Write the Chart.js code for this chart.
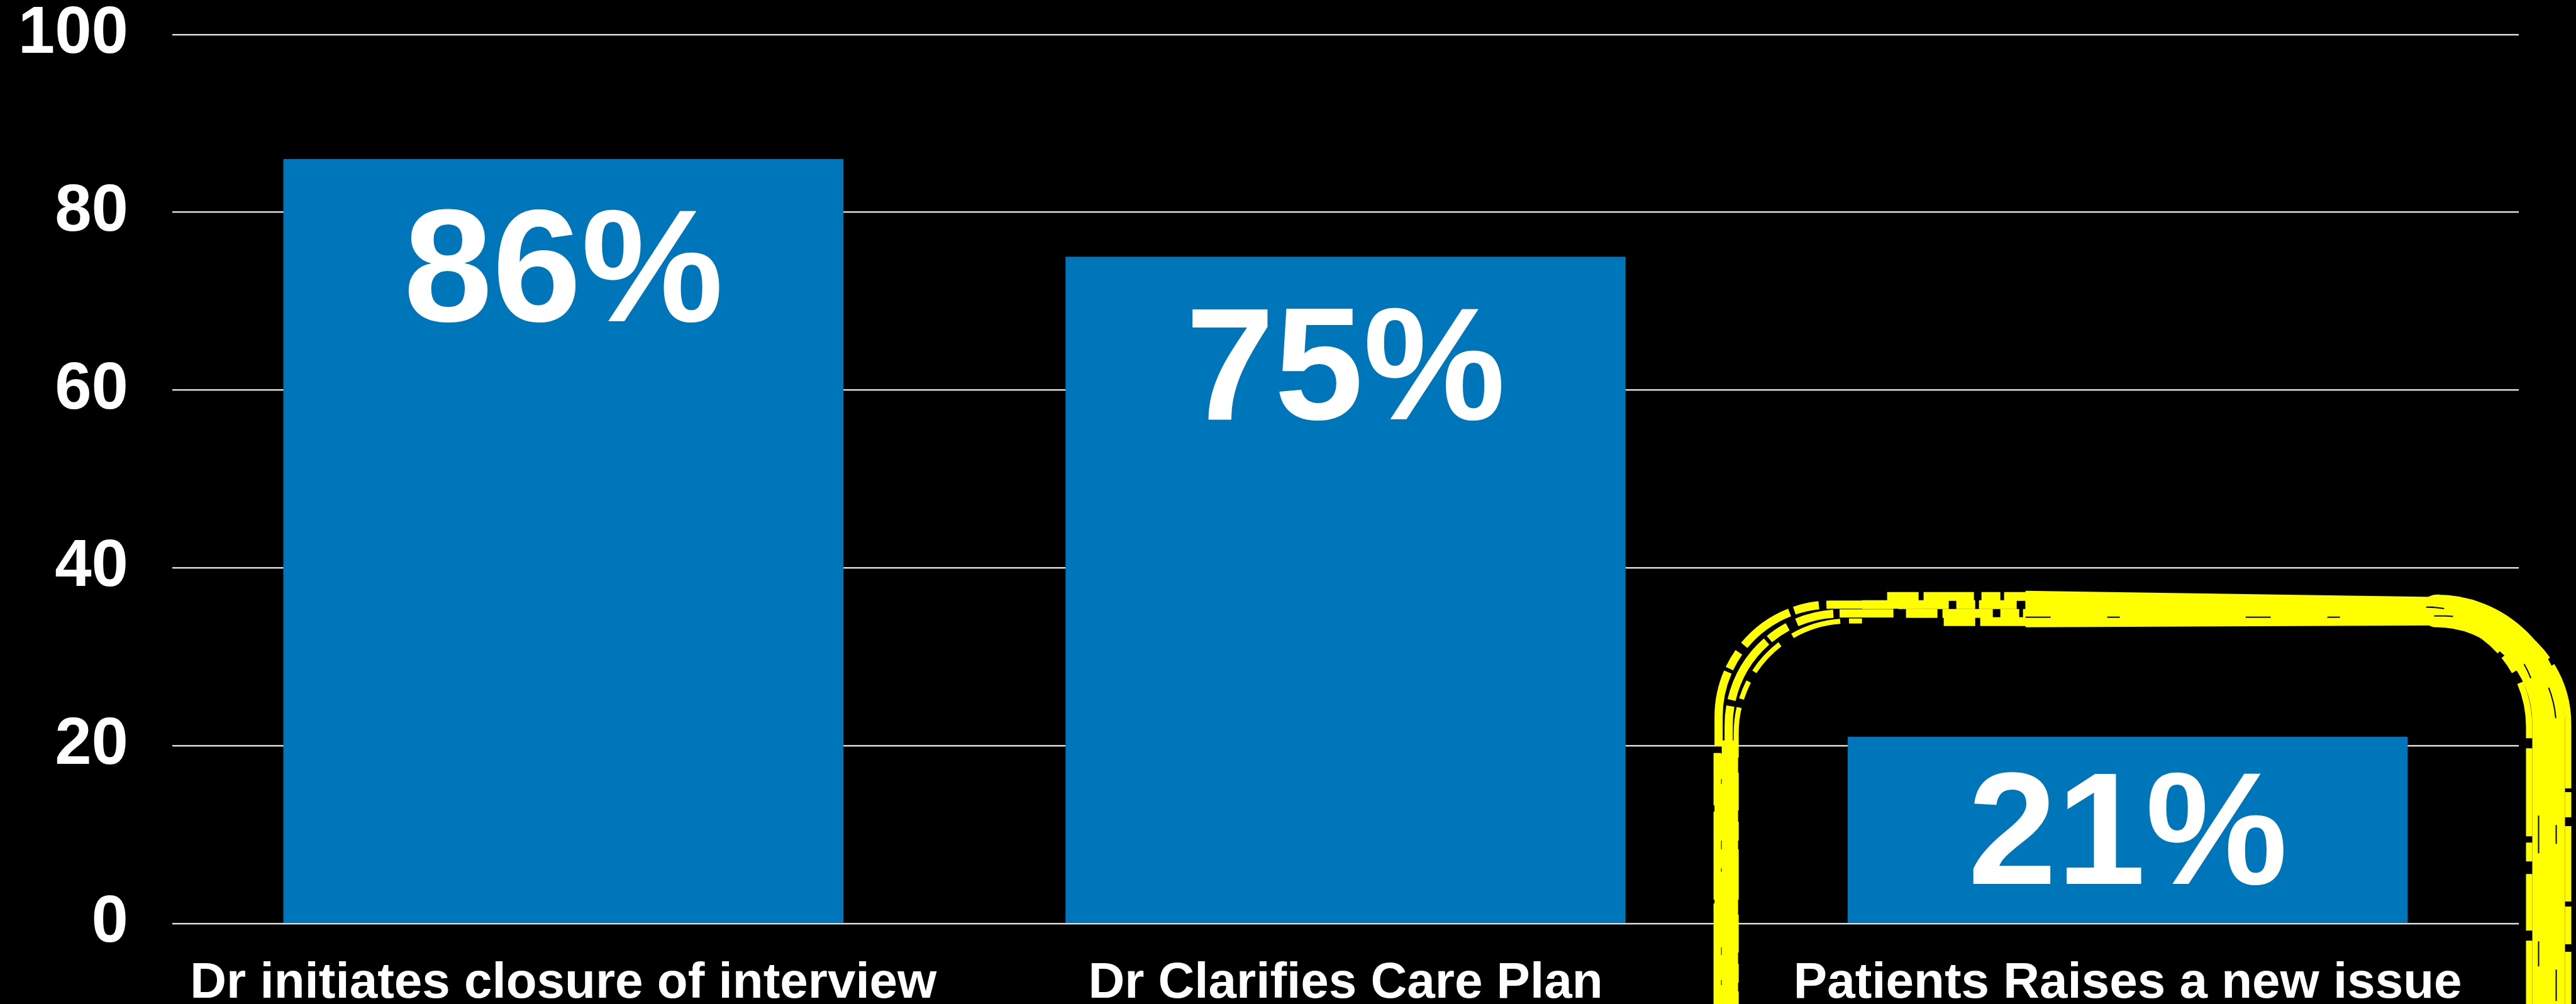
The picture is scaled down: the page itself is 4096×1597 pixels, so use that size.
<!DOCTYPE html>
<html>
<head>
<meta charset="utf-8">
<title>Closure of interview</title>
<script src="https://cdn.jsdelivr.net/npm/chart.js@4.4.1/dist/chart.umd.min.js"></script>
<style>
  html, body { margin: 0; padding: 0; background: #000; }
  #wrap { width: 4096px; height: 1597px; position: relative; }
</style>
</head>
<body>
<div id="wrap"><canvas id="closureChart"></canvas></div>
<script>
// Datos del gráfico
const categories = ['Dr initiates closure of interview', 'Dr Clarifies Care Plan', 'Patients Raises a new issue'];
const percentValues = [86, 75, 21];
const yTicks = [0, 20, 40, 60, 80, 100];
const highlightIndex = 2;

const FONT = "'Liberation Sans', Arial, Helvetica, sans-serif";

// Etiquetas grandes "86%" dentro de cada barra
const barLabels = {
    id: 'barLabels',
    afterDatasetsDraw(chart) {
        const ctx = chart.ctx;
        const meta = chart.getDatasetMeta(0);
        ctx.save();
        ctx.fillStyle = '#ffffff';
        ctx.font = 'bold 254px ' + FONT;
        ctx.textAlign = 'center';
        ctx.textBaseline = 'alphabetic';
        meta.data.forEach((bar, i) => {
            const y = Math.min(bar.y + 258, (bar.y + bar.base) / 2 + 86);
            ctx.fillText(percentValues[i] + '%', bar.x, y);
        });
        ctx.restore();
    }
};

// Marco amarillo tipo pincel alrededor de la última categoría
const highlight = {
    id: 'highlight',
    afterDraw(chart) {
        const ctx = chart.ctx;
        const xs = chart.scales.x;
        const ys = chart.scales.y;
        const x0 = xs.getPixelForValue(highlightIndex - 0.515);
        const x1 = xs.getPixelForValue(highlightIndex + 0.535);
        const yTop = ys.getPixelForValue(35.3);
        const yBot = chart.height + 60;
        const r = 178;

        // esquina superior izquierda + lado izquierdo
        const leftPath = (dx, dy, xEnd) => {
            ctx.beginPath();
            ctx.moveTo(x0 + dx, yBot);
            ctx.lineTo(x0 + dx, yTop + dy + r);
            ctx.arcTo(x0 + dx, yTop + dy, x0 + dx + r, yTop + dy, r);
            ctx.lineTo(xEnd, yTop + dy);
            ctx.stroke();
        };
        // esquina superior derecha + lado derecho
        const rightPath = (dx, dy, xStart) => {
            ctx.beginPath();
            ctx.moveTo(xStart, yTop + dy);
            ctx.arcTo(x1 + dx, yTop + dy, x1 + dx, yTop + dy + r, r);
            ctx.lineTo(x1 + dx, yBot);
            ctx.stroke();
        };

        ctx.save();
        ctx.strokeStyle = '#ffff00';
        ctx.fillStyle = '#ffff00';
        ctx.lineCap = 'butt';
        ctx.lineJoin = 'round';

        // lado izquierdo: dos vetas
        ctx.lineWidth = 26;
        ctx.beginPath();
        ctx.moveTo(x0 + 8, yBot);
        ctx.lineTo(x0 + 8, yTop + r + 30);
        ctx.stroke();
        ctx.lineWidth = 12;
        ctx.setLineDash([220, 6, 140, 10, 300, 5]);
        ctx.beginPath();
        ctx.moveTo(x0 - 12, yBot);
        ctx.lineTo(x0 - 12, yTop + r + 50);
        ctx.stroke();

        // esquina izquierda, algo rota
        ctx.lineWidth = 13;
        ctx.setLineDash([90, 8, 40, 12, 120, 6, 30, 14]);
        leftPath(-10, -8, x0 + r + 140);
        ctx.setLineDash([60, 10, 110, 6, 35, 16]);
        leftPath(6, 6, x0 + r + 90);
        ctx.lineWidth = 8;
        ctx.setLineDash([80, 14, 30, 18, 60, 24]);
        leftPath(18, 18, x0 + r + 40);

        // parte superior deshilachada
        const fragStart = x0 + r + 40;
        const solidStart = x0 + r + 300;
        ctx.lineWidth = 14;
        ctx.setLineDash([50, 8, 80, 12, 30, 6, 60, 14]);
        [[-21, 40], [-8, 0], [6, 70], [19, 130]].forEach(([dy, s]) => {
            ctx.beginPath();
            ctx.moveTo(fragStart + s, yTop + dy);
            ctx.lineTo(solidStart + 40, yTop + dy);
            ctx.stroke();
        });
        ctx.setLineDash([]);

        // banda gruesa superior
        ctx.beginPath();
        ctx.moveTo(solidStart, yTop - 30);
        ctx.lineTo(x1 - r * 0.9, yTop - 20);
        ctx.lineTo(x1 - r * 0.9, yTop + 25);
        ctx.lineTo(solidStart, yTop + 28);
        ctx.closePath();
        ctx.fill();

        // esquina derecha y lado derecho
        ctx.lineWidth = 52;
        rightPath(4, 2, x1 - r * 0.95);
        ctx.lineWidth = 10;
        ctx.setLineDash([120, 8, 60, 12, 200, 6, 40, 14]);
        rightPath(35, 4, x1 - r * 0.7);
        ctx.setLineDash([90, 16, 140, 10, 30, 20]);
        rightPath(-27, 8, x1 - r * 0.6);
        ctx.setLineDash([]);

        // unas pocas vetas negras dentro del trazo
        ctx.strokeStyle = '#000000';
        ctx.lineWidth = 2;
        ctx.setLineDash([40, 160, 25, 220, 60, 140]);
        rightPath(-12, -4, x1 - r);
        ctx.setLineDash([30, 200, 50, 170]);
        rightPath(16, 10, x1 - r);
        ctx.setLineDash([40, 90, 20, 200]);
        ctx.beginPath();
        ctx.moveTo(solidStart, yTop + 12);
        ctx.lineTo(x1 - r, yTop + 12);
        ctx.stroke();
        ctx.setLineDash([]);
        ctx.restore();
    }
};

const ctx = document.getElementById('closureChart').getContext('2d');

new Chart(ctx, {
    type: 'bar',
    data: {
        labels: categories,
        datasets: [{
            data: percentValues,
            backgroundColor: '#0076ba',
            borderWidth: 0,
            barPercentage: 0.716,
            categoryPercentage: 1.0
        }]
    },
    options: {
        responsive: true,
        maintainAspectRatio: false,
        animation: false,
        layout: {
            padding: { top: 0, right: 91, bottom: 0, left: 0 }
        },
        plugins: {
            legend: { display: false },
            tooltip: { enabled: false }
        },
        scales: {
            x: {
                grid: { display: false },
                border: { display: false },
                ticks: {
                    color: '#ffffff',
                    padding: 48,
                    maxRotation: 0,
                    autoSkip: false,
                    font: { family: FONT, size: 80, weight: 'bold', lineHeight: 1 }
                },
                afterFit(scale) { scale.height = 128; }
            },
            y: {
                min: 0,
                max: 100,
                afterBuildTicks(scale) {
                    scale.ticks = yTicks.map(v => ({ value: v }));
                },
                grid: {
                    color: '#d9d9d9',
                    lineWidth: 2.6,
                    drawTicks: false
                },
                border: { display: false },
                ticks: {
                    color: '#ffffff',
                    padding: 70,
                    font: { family: FONT, size: 105, weight: 'bold', lineHeight: 1 }
                },
                afterFit(scale) {
                    scale.width = 274;
                    scale.paddingTop = 55;
                    scale.paddingBottom = 0;
                }
            }
        }
    },
    plugins: [barLabels, highlight]
});
</script>
</body>
</html>
